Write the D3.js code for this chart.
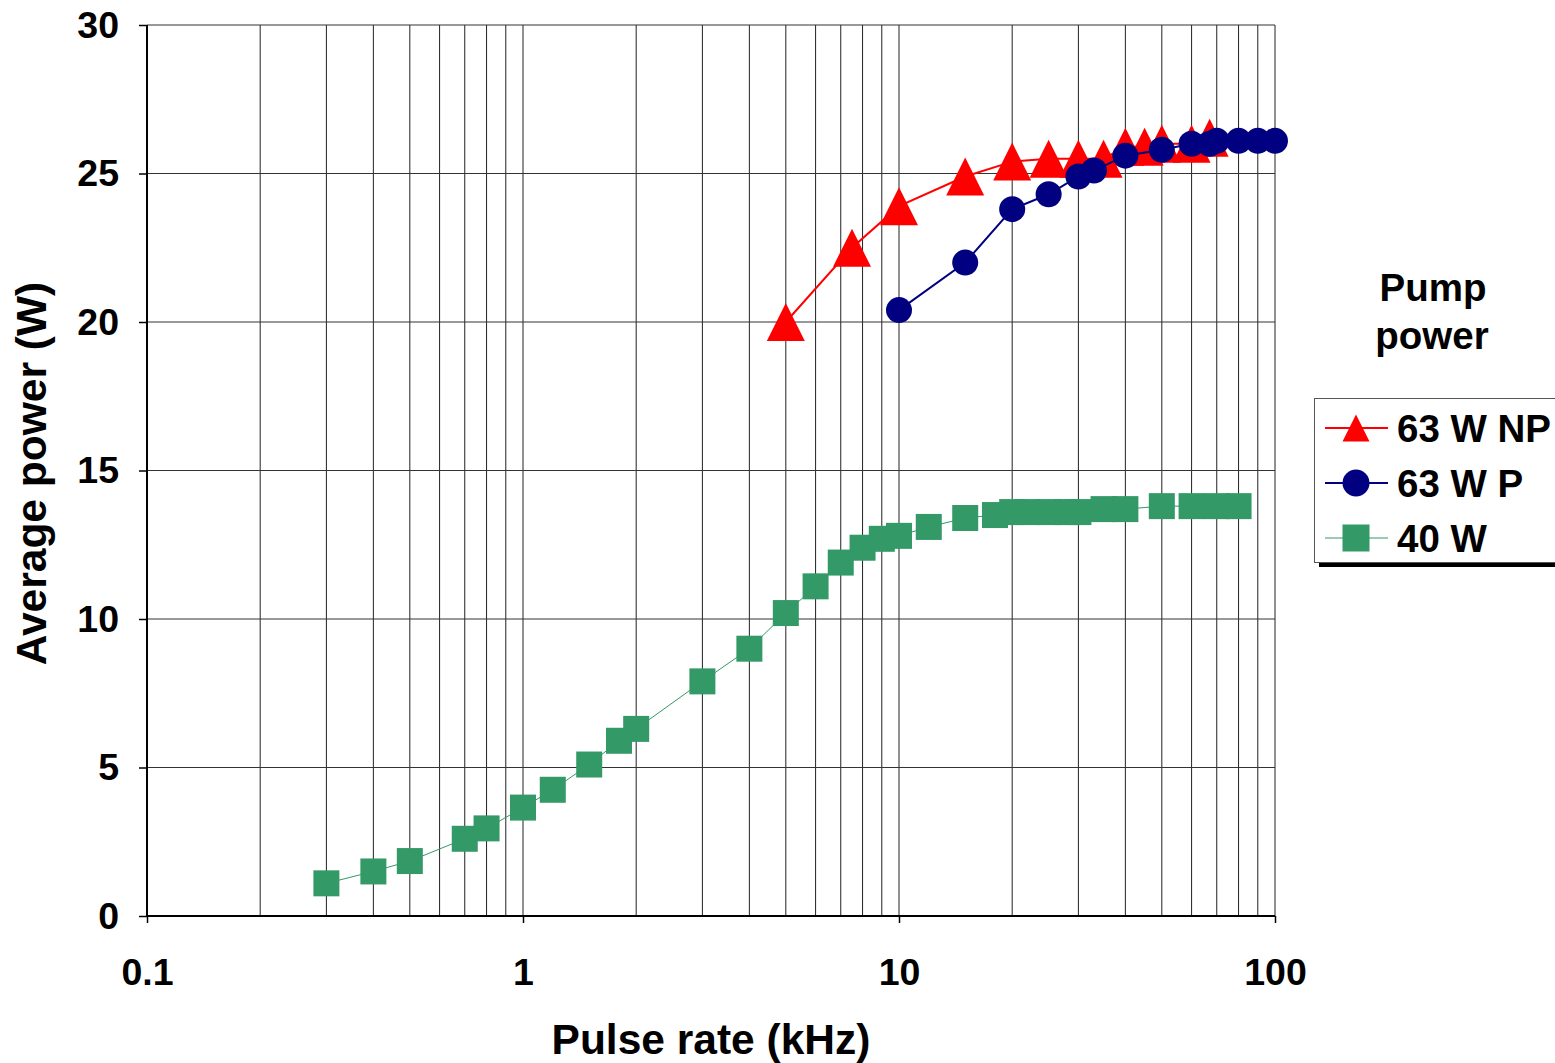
<!DOCTYPE html>
<html>
<head>
<meta charset="utf-8">
<script src="https://cdn.jsdelivr.net/npm/d3@7"></script>
<style>
  html, body { margin: 0; padding: 0; background: #fff; }
  svg { display: block; font-family: "Liberation Sans", Arial, sans-serif; font-weight: bold; }
</style>
</head>
<body>
<div id="chart"></div>
<script>
// Data (pulse rate in kHz, average power in W)
const np63Rate  = [5, 7.5, 10, 15, 20, 25, 30, 35, 40, 45, 50, 60, 67];
const np63Power = [20.0, 22.5, 23.9, 24.9, 25.4, 25.5, 25.5, 25.5, 25.9, 25.9, 26.0, 26.0, 26.2];

const p63Rate  = [10, 15, 20, 25, 30, 33, 40, 50, 60, 67, 70, 80, 90, 100];
const p63Power = [20.4, 22.0, 23.8, 24.3, 24.9, 25.1, 25.6, 25.8, 26.0, 26.0, 26.1, 26.1, 26.1, 26.1];

const w40Rate  = [0.3, 0.4, 0.5, 0.7, 0.8, 1, 1.2, 1.5, 1.8, 2, 3, 4, 5, 6, 7, 8, 9, 10, 12, 15, 18,
                  20, 22, 25, 28, 30, 35, 40, 50, 60, 70, 80];
const w40Power = [1.1, 1.5, 1.85, 2.6, 2.95, 3.65, 4.25, 5.1, 5.9, 6.3, 7.9, 9.0, 10.2, 11.1, 11.9, 12.4, 12.7, 12.8, 13.1, 13.4, 13.5,
                  13.6, 13.6, 13.6, 13.6, 13.6, 13.7, 13.7, 13.8, 13.8, 13.8, 13.8];

const xTickLabels = [0.1, 1, 10, 100];
const yTickLabels = [0, 5, 10, 15, 20, 25, 30];

const seriesNames = ["63 W NP", "63 W P", "40 W"];

const series = [
    { name: seriesNames[0], rate: np63Rate, power: np63Power, color: "#ff0000", width: 2, shape: "triangle", size: 38 },
    { name: seriesNames[1], rate: p63Rate,  power: p63Power,  color: "#000080", width: 2, shape: "circle",   size: 26 },
    { name: seriesNames[2], rate: w40Rate,  power: w40Power,  color: "#339966", width: 1, shape: "square",   size: 26 }
];

const W = 1555, H = 1063;
const margin = { left: 147, right: 280, top: 25, bottom: 147 };

const svg = d3.select("#chart").append("svg")
    .attr("width", W)
    .attr("height", H);

const x = d3.scaleLog().domain([0.1, 100]).range([margin.left, W - margin.right]);
const y = d3.scaleLinear().domain([0, 30]).range([H - margin.bottom, margin.top]);

// marker path, centred on its bounding box
function marker(shape, s) {
    const h = s / 2;
    if (shape === "triangle") return `M0,${-h}L${h},${h}L${-h},${h}Z`;
    if (shape === "square") return `M${-h},${-h}H${h}V${h}H${-h}Z`;
    return d3.symbol(d3.symbolCircle, Math.PI * h * h)();
}

// grid
const grid = svg.append("g").attr("class", "grid");
grid.selectAll(".vgrid")
    .data(x.ticks().filter(d => d > 0.1))
    .join("line")
    .attr("x1", d => x(d)).attr("x2", d => x(d))
    .attr("y1", y(0)).attr("y2", y(30))
    .attr("stroke", "#222")
    .attr("stroke-width", 1);

grid.selectAll(".hgrid")
    .data(yTickLabels.filter(d => d > 0))
    .join("line")
    .attr("x1", x(0.1)).attr("x2", x(100))
    .attr("y1", d => y(d)).attr("y2", d => y(d))
    .attr("stroke", "#333")
    .attr("stroke-width", 1);

// axes
const xAxis = svg.append("g")
    .attr("transform", `translate(0,${y(0)})`)
    .call(d3.axisBottom(x).tickValues(xTickLabels).tickFormat(d3.format("")).tickSize(7).tickPadding(35));
const yAxis = svg.append("g")
    .attr("transform", `translate(${x(0.1)},0)`)
    .call(d3.axisLeft(y).tickValues(yTickLabels).tickSize(8).tickPadding(20));

[xAxis, yAxis].forEach(ax => {
    ax.select(".domain").attr("stroke", "#000").attr("stroke-width", 2);
    ax.selectAll(".tick line").attr("stroke", "#000").attr("stroke-width", 1.5);
    ax.selectAll("text")
        .attr("fill", "#000")
        .style("font-size", "37.5px")
        .style("font-weight", "bold")
        .style("font-family", '"Liberation Sans", Arial, sans-serif');
});
xAxis.select(".domain").attr("d", `M${x(0.1)},0H${x(100)}`);
yAxis.select(".domain").attr("d", `M0,${y(0)}V${y(30)}`);

// axis titles
svg.append("text")
    .attr("x", (x(0.1) + x(100)) / 2)
    .attr("y", 1054)
    .attr("text-anchor", "middle")
    .style("font-size", "42.5px")
    .text("Pulse rate (kHz)");

svg.append("text")
    .attr("transform", `translate(46,${(y(0) + y(30)) / 2 + 3}) rotate(-90)`)
    .attr("text-anchor", "middle")
    .style("font-size", "42.5px")
    .text("Average power (W)");

// series
const line = d3.line().x(d => x(d[0])).y(d => y(d[1]));
series.forEach(s => {
    const pts = s.rate.map((r, i) => [r, s.power[i]]);
    const g = svg.append("g").attr("class", "series");
    g.append("path")
        .attr("d", line(pts))
        .attr("fill", "none")
        .attr("stroke", s.color)
        .attr("stroke-width", s.width);
    g.selectAll(".pt")
        .data(pts)
        .join("path")
        .attr("class", "pt")
        .attr("transform", d => `translate(${x(d[0])},${y(d[1])})`)
        .attr("d", marker(s.shape, s.size))
        .attr("fill", s.color);
});

// legend title
svg.append("text")
    .attr("x", 1433).attr("y", 301)
    .attr("text-anchor", "middle")
    .style("font-size", "38.5px")
    .text("Pump");
svg.append("text")
    .attr("x", 1432).attr("y", 349)
    .attr("text-anchor", "middle")
    .style("font-size", "38.5px")
    .text("power");

// legend box
const legend = svg.append("g").attr("transform", "translate(1314,398)");
legend.append("rect")
    .attr("x", 5).attr("y", 164)
    .attr("width", 260).attr("height", 5)
    .attr("fill", "#000");
legend.append("rect")
    .attr("x", 0.5).attr("y", 0.5)
    .attr("width", 260).attr("height", 164)
    .attr("fill", "#fff")
    .attr("stroke", "#555")
    .attr("stroke-width", 1);

const rows = legend.selectAll(".row")
    .data(series)
    .join("g")
    .attr("class", "row")
    .attr("transform", (d, i) => `translate(0,${30 + i * 55})`);
rows.append("line")
    .attr("x1", 11).attr("x2", 74)
    .attr("stroke", d => d.color)
    .attr("stroke-width", d => d.width);
rows.append("path")
    .attr("transform", "translate(42,0)")
    .attr("d", d => marker(d.shape, 27))
    .attr("fill", d => d.color);
rows.append("text")
    .attr("x", 83)
    .attr("dy", "0.36em")
    .style("font-size", "38.5px")
    .text(d => d.name);
</script>
</body>
</html>
